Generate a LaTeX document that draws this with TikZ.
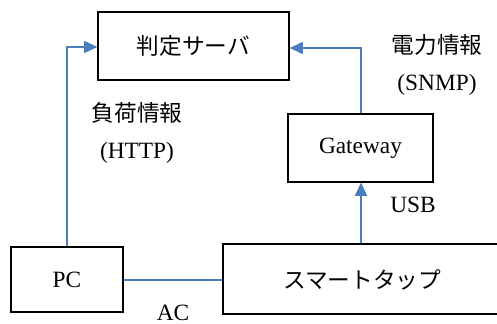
\documentclass[tikz,border=0pt]{standalone}
\usepackage{fontspec}
\setmainfont{Liberation Serif}
\newfontfamily\jp{Noto Sans CJK JP}
\usetikzlibrary{arrows.meta}
\definecolor{lineblue}{HTML}{4A7EBB}
\tikzset{
  box/.style={draw=black, line width=0.8pt, inner sep=0pt, font=\fontsize{17.5}{20}\selectfont},
  conn/.style={draw=lineblue, line width=1.2pt},
  arr/.style={conn, -{Triangle[length=10pt,width=9pt]}},
  lbl/.style={font=\fontsize{17.5}{20}\selectfont, inner sep=0pt},
}
\begin{document}
\begin{tikzpicture}[x=0.75pt, y=-0.75pt]
\useasboundingbox (0,0) rectangle (497,324);
\clip (0,0) rectangle (497,324);
\node[box, minimum width=191*0.75pt, minimum height=68*0.75pt] (srv) at (193.5,46) {\jp\fontsize{17}{20}\selectfont 判定サーバ};
\node[box, minimum width=145*0.75pt, minimum height=68*0.75pt] (gw) at (360.5,148) {Gateway};
\node[box, minimum width=112*0.75pt, minimum height=65*0.75pt] (pc) at (67,279.5) {PC};
\node[box, minimum width=290*0.75pt, minimum height=70*0.75pt] (tap) at (368,279) {};
\node[lbl] (taptxt) at (362,280) {\jp\fontsize{17}{20}\selectfont スマートタップ};
\coordinate (c1) at (67,47);
\coordinate (c2) at (361,48);
\coordinate (c3) at (100,280);
\draw[arr] (pc.north) -- (c1) -- (c1 -| srv.west);
\draw[arr] (gw.north -| c2) -- (c2) -- (c2 -| srv.east);
\draw[arr] (tap.north -| c2) -- (gw.south -| c2);
\draw[conn] (c3 -| pc.east) -- (c3 -| tap.west);
\node[lbl] (l1) at (437,45) {\jp\fontsize{17}{20}\selectfont 電力情報};
\node[lbl] (l2) at (437,85) {(SNMP)};
\node[lbl] (l3) at (137,113) {\jp\fontsize{17}{20}\selectfont 負荷情報};
\node[lbl] (l4) at (137,153) {(HTTP)};
\node[lbl] (l5) at (413,205) {USB};
\node[lbl] (l6) at (173,313) {AC};
\end{tikzpicture}
\end{document}
